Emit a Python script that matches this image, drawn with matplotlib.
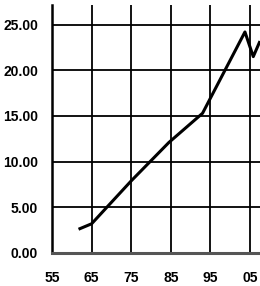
import matplotlib.pyplot as plt

# data (years past 1900, value)
years = [61.7, 65, 75, 84.5, 93, 103.7, 105.8, 107.5]
values = [2.6, 3.2, 7.9, 12.1, 15.3, 24.2, 21.5, 23.2]

xticks = [55, 65, 75, 85, 95, 105]
xlabels = ["55", "65", "75", "85", "95", "05"]
yticks = [0, 5, 10, 15, 20, 25]
ylabels = ["0.00", "5.00", "10.00", "15.00", "20.00", "25.00"]

fig = plt.figure(figsize=(2.6, 2.86), dpi=100)
ax = fig.add_axes([52/260, 33/286, 208/260, 248/286])

ax.plot(years, values, color="black", lw=2.2, solid_capstyle="butt", zorder=3)

ax.set_xlim(55, 107.5)
ax.set_ylim(0, 27.15)
ax.set_xticks(xticks)
ax.set_xticklabels(xlabels)
ax.set_yticks(yticks)
ax.set_yticklabels(ylabels)
for lab in ax.get_xticklabels() + ax.get_yticklabels():
    lab.set_fontfamily("Liberation Sans")
    lab.set_fontweight("bold")
    lab.set_fontsize(10)
ax.tick_params(axis="y", length=0, pad=10)
ax.tick_params(axis="x", length=0, pad=13)

ax.grid(True, color="black", lw=1.3)
ax.spines["top"].set_visible(False)
ax.spines["right"].set_visible(False)
ax.spines["left"].set_linewidth(1.8)
ax.spines["bottom"].set_linewidth(2.2)
ax.spines["bottom"].set_color("#555555")

fig.savefig("out.png", dpi=100)
